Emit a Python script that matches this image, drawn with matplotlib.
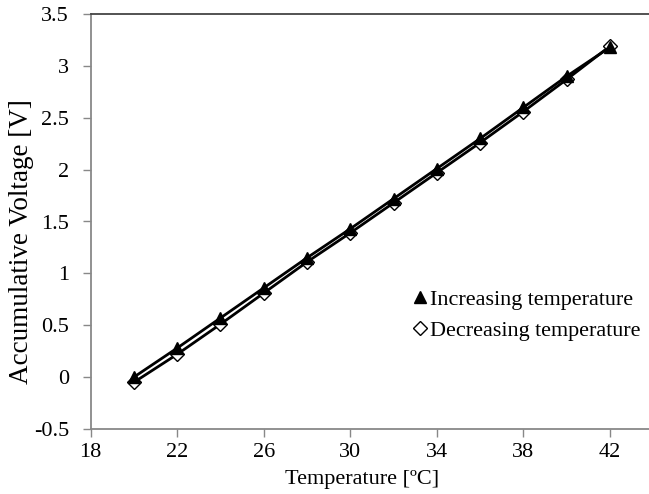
import matplotlib
matplotlib.use("Agg")
import matplotlib.pyplot as plt
from matplotlib.ticker import FuncFormatter

temperature = [20, 22, 24, 26, 28, 30, 32, 34, 36, 38, 40, 42]
increasing = [0.00, 0.28, 0.57, 0.86, 1.15, 1.43, 1.72, 2.01, 2.30, 2.60, 2.90, 3.18]
decreasing = [-0.05, 0.22, 0.51, 0.81, 1.11, 1.39, 1.68, 1.97, 2.26, 2.56, 2.87, 3.19]
x_ticks = [18, 22, 26, 30, 34, 38, 42]
y_ticks = [-0.5, 0, 0.5, 1, 1.5, 2, 2.5, 3, 3.5]

plt.rcParams['font.family'] = ['Liberation Serif', 'DejaVu Serif']

fig = plt.figure(figsize=(6.49, 4.94), dpi=100)
ax = fig.add_axes([90.6 / 649, 65 / 494, (696.6 - 90.6) / 649, (429 - 14) / 494])

ax.plot(temperature, decreasing, color='black', lw=2.0, marker='D', markersize=7,
        markerfacecolor='white', markeredgecolor='black', markeredgewidth=1.0,
        label='Decreasing temperature', zorder=3)
ax.plot(temperature, increasing, color='black', lw=2.0, marker='^', markersize=9,
        markerfacecolor='black', markeredgecolor='black',
        label='Increasing temperature', zorder=4)

ax.set_xlim(18, 46)
ax.set_ylim(-0.5, 3.5)
ax.set_xticks(x_ticks)
ax.set_yticks(y_ticks)
ax.yaxis.set_major_formatter(FuncFormatter(lambda v, p: '%g' % v))

for s in ['left', 'bottom']:
    ax.spines[s].set_color('#888888')
    ax.spines[s].set_linewidth(1.3)
ax.spines['right'].set_visible(False)
ax.spines['top'].set_color('#444444')
ax.spines['top'].set_linewidth(1.3)

ax.tick_params(axis='both', direction='out', length=6, width=1, color='#888888',
               labelsize=16, pad=4)
ax.tick_params(axis='y', pad=9.5)

ax.set_xlabel('Temperature [ºC]', fontsize=16)
ax.set_ylabel('Accumulative Voltage [V]', fontsize=19.5)
ax.xaxis.set_label_coords((362 - 90.6) / 606, -41 / 415)
ax.yaxis.set_label_coords(-57 / 606, (429 - 242) / 415)

leg_handles = [plt.Line2D([], [], ls='none', marker='^', markersize=9, color='black'),
               plt.Line2D([], [], ls='none', marker='D', markersize=7,
                          markerfacecolor='white', markeredgecolor='black')]
ax.legend(leg_handles, ['Increasing temperature', 'Decreasing temperature'],
          loc='upper left', bbox_to_anchor=(402 / 649, (494 - 278) / 494),
          bbox_transform=fig.transFigure, frameon=False, fontsize=15.9,
          handlelength=0.6, handletextpad=0.15, labelspacing=0.5, borderpad=0)

fig.savefig('out.png', dpi=100)
